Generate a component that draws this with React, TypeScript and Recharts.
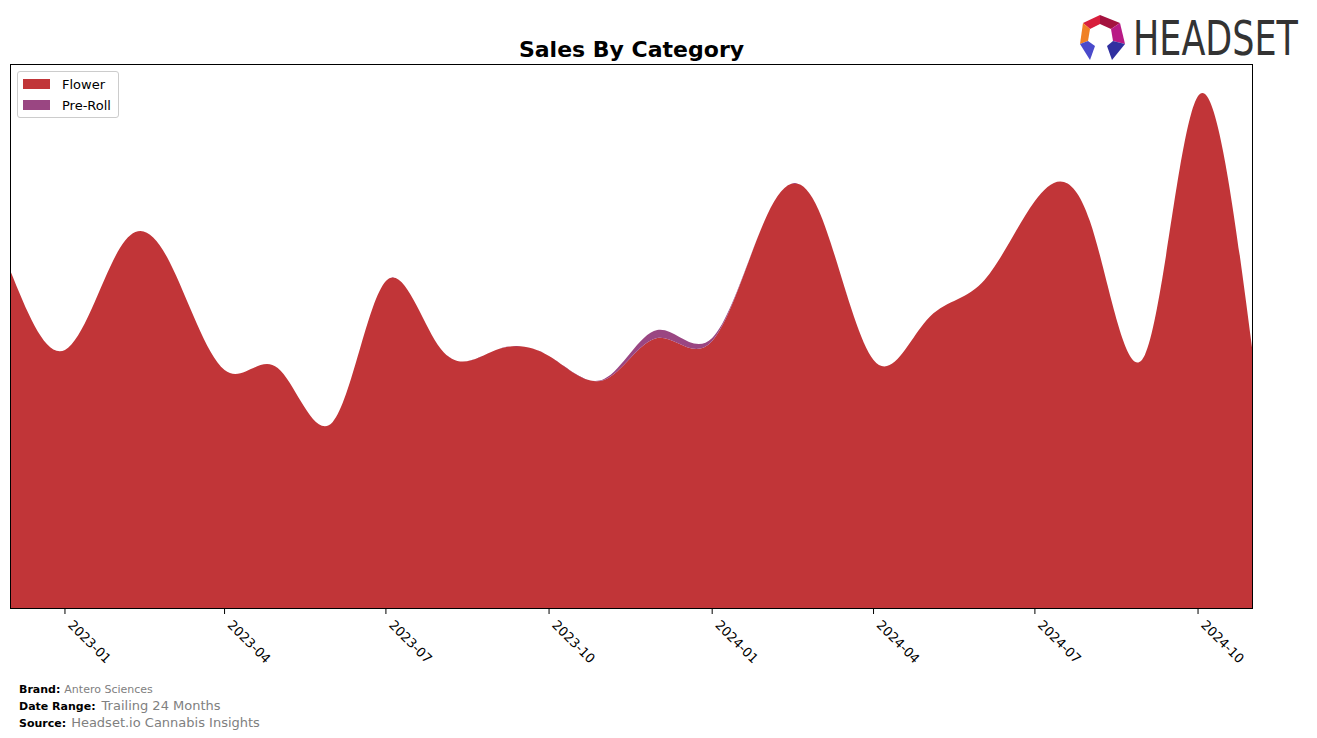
import { AreaChart, Area, XAxis, YAxis } from 'recharts';

const months = [
  '2022-12', '2023-01', '2023-02', '2023-03', '2023-04', '2023-05', '2023-06', '2023-07',
  '2023-08', '2023-09', '2023-10', '2023-11', '2023-12', '2024-01', '2024-02', '2024-03',
  '2024-04', '2024-05', '2024-06', '2024-07', '2024-08', '2024-09', '2024-10', '2024-11',
];
const flower = [339, 259, 361, 347, 239, 241, 187, 328, 260, 259, 253, 229, 271, 268, 394, 399, 249, 289, 326, 408, 388, 254, 513, 254];
const preRoll = [0, 0, 0, 0, 0, 0, 0, 0, 0, 0, 0, 1, 8, 3, 0, 0, 0, 0, 0, 0, 0, 0, 0, 0];
const tickMonths = ['2023-01', '2023-04', '2023-07', '2023-10', '2024-01', '2024-04', '2024-07', '2024-10'];

const C = { flower: '#c13538', preRoll: '#9a4682', text: '#000', muted: '#808080' };
const FONT = '"DejaVu Sans", sans-serif';

const toTs = (m: string) => {
  const [y, mo] = m.split('-').map(Number);
  return Date.UTC(y, mo - 1, 1);
};

const data = months.map((m, i) => ({ t: toTs(m), Flower: flower[i], 'Pre-Roll': preRoll[i] }));
const ticks = tickMonths.map(toTs);
const fmt = (t: number) => {
  const d = new Date(t);
  return `${d.getUTCFullYear()}-${String(d.getUTCMonth() + 1).padStart(2, '0')}`;
};

const Tick = ({ x, y, payload }: any) => (
  <g transform={`translate(${x + 9},${y + 3})`}>
    <text transform="rotate(45)" textAnchor="start" dominantBaseline="hanging" fontSize={13} fontFamily={FONT} fill="#000">
      {fmt(payload.value)}
    </text>
  </g>
);

const Logo = () => (
  <>
    <svg width={50} height={50} style={{ position: 'absolute', left: 1078, top: 14 }}>
      <polygon points="5,9 22,1 22,10 12,15" fill="#d81e3c" />
      <polygon points="22,1 42,9 33,15 22,10" fill="#a4123f" />
      <polygon points="42,9 47,30 35,27 33,15" fill="#b81a85" />
      <polygon points="5,9 12,15 10,27 2,30" fill="#f08024" />
      <polygon points="2,30 10,27 17,32 12,46" fill="#4a4acb" />
      <polygon points="47,30 35,27 29,32 34,46" fill="#3030a0" />
    </svg>
    <div style={{ position: 'absolute', left: 1133, top: 10, width: 170, overflow: 'visible' }}>
      <div style={{ fontSize: 48, lineHeight: '56px', color: '#333', whiteSpace: 'nowrap', transform: 'scaleX(0.81)', transformOrigin: 'left top',
        fontFamily: '"DejaVu Sans Condensed", sans-serif', display: 'inline-block' }}>HEADSET</div>
    </div>
  </>
);

export default function App() {
  return (
    <div style={{ position: 'absolute', left: 0, top: 0, width: 1317, height: 738, background: '#fff', fontFamily: FONT, overflow: 'hidden' }}>
      <div style={{ position: 'absolute', left: 0, width: 1263, top: 37, textAlign: 'center', fontSize: 22, fontWeight: 700 }}>
        Sales By Category
      </div>
      <Logo />
      <AreaChart width={1317} height={738} data={data} margin={{ top: 65, left: 10, right: 64, bottom: 89 }}
        style={{ position: 'absolute', left: 0, top: 0 }}>
        <XAxis dataKey="t" type="number" scale="time" domain={[data[0].t, data[data.length - 1].t]} allowDataOverflow
          ticks={ticks} tick={<Tick />} tickSize={5} tickLine={{ stroke: '#000' }} axisLine={false} height={40} />
        <YAxis hide domain={[0, 544]} allowDataOverflow />
        <Area type="natural" dataKey="Flower" stackId="1" stroke="none" fill={C.flower} fillOpacity={1} isAnimationActive={false} />
        <Area type="natural" dataKey="Pre-Roll" stackId="1" stroke="none" fill={C.preRoll} fillOpacity={1} isAnimationActive={false} />
      </AreaChart>
      <div style={{ position: 'absolute', left: 10, top: 64, width: 1243, height: 545, border: '1px solid #000', boxSizing: 'border-box', pointerEvents: 'none' }} />
      <div style={{ position: 'absolute', left: 17, top: 71, width: 102, height: 47, border: '1px solid #ccc', borderRadius: 3, background: 'rgba(255,255,255,0.8)', boxSizing: 'border-box', fontSize: 13 }}>
        {[['Flower', C.flower], ['Pre-Roll', C.preRoll]].map(([n, c], i) => (
          <div key={n} style={{ position: 'absolute', left: 5, top: 4 + i * 21, display: 'flex', alignItems: 'center', height: 16 }}>
            <div style={{ width: 27, height: 10, background: c, marginRight: 12 }} />
            <span>{n}</span>
          </div>
        ))}
      </div>
      <div style={{ position: 'absolute', left: 19, top: 682, fontSize: 11, lineHeight: '16px' }}>
        <div><b>Brand:</b><span style={{ color: C.muted, marginLeft: 4 }}>Antero Sciences</span></div>
        <div><b>Date Range:</b><span style={{ color: C.muted, fontSize: 13, marginLeft: 6 }}>Trailing 24 Months</span></div>
        <div><b>Source:</b><span style={{ color: C.muted, fontSize: 13, marginLeft: 5 }}>Headset.io Cannabis Insights</span></div>
      </div>
    </div>
  );
}
